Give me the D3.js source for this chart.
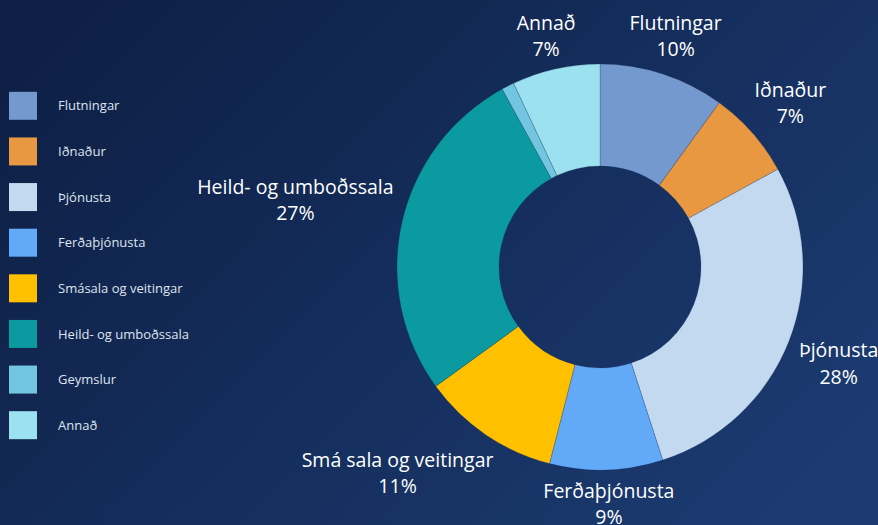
<!DOCTYPE html>
<html>
<head>
<meta charset="utf-8">
<script src="https://cdn.jsdelivr.net/npm/d3@7"></script>
<style>
  html, body { margin: 0; padding: 0; }
  body { width: 878px; height: 525px; overflow: hidden; font-family: "Open Sans", sans-serif; }
</style>
</head>
<body>
<div id="chart"></div>
<script>
// Categories in legend order (clockwise from 12 o'clock)
const categories = ["Flutningar", "Iðnaður", "Þjónusta", "Ferðaþjónusta", "Smásala og veitingar", "Heild- og umboðssala", "Geymslur", "Annað"];
// Label text on the slices (the chart spells one differently than the legend)
const sliceLabels = ["Flutningar", "Iðnaður", "Þjónusta", "Ferðaþjónusta", "Smá sala og veitingar", "Heild- og umboðssala", "Geymslur", "Annað"];
// Share of each category, percent
const shares = [10, 7, 28, 9, 11, 27, 1, 7];
const colors = ["#7399cf", "#e89841", "#c3d9ef", "#62a9f8", "#ffc000", "#0a9aa0", "#73c6e0", "#9be1ef"];

const width = 878, height = 525;
const cx = 600, cy = 267;
const outerR = 203, innerR = 101, labelR = 218;

const data = categories.map((c, i) => ({ name: c, label: sliceLabels[i], value: shares[i], color: colors[i] }));

const svg = d3.select("#chart").append("svg")
  .attr("width", width)
  .attr("height", height);

// background gradient
const grad = svg.append("defs").append("linearGradient")
  .attr("id", "bg")
  .attr("x1", 0).attr("y1", 0.2).attr("x2", 1).attr("y2", 0.8);
grad.append("stop").attr("offset", 0).attr("stop-color", "#0e2046");
grad.append("stop").attr("offset", 1).attr("stop-color", "#1b3b71");
svg.append("rect").attr("width", width).attr("height", height).attr("fill", "url(#bg)");

// legend
const legendY = d3.scaleBand()
  .domain(d3.range(categories.length))
  .range([83, 448]);

const legend = svg.append("g").selectAll("g")
  .data(data)
  .join("g")
  .attr("transform", (d, i) => `translate(9,${legendY(i) + legendY.bandwidth() / 2})`);

legend.append("rect")
  .attr("y", -14)
  .attr("width", 28)
  .attr("height", 28)
  .attr("fill", d => d.color);

legend.append("text")
  .attr("x", 49)
  .attr("dy", "0.35em")
  .attr("fill", "#dfe4ee")
  .attr("font-size", 13)
  .text(d => d.name);

// donut
const pie = d3.pie().sort(null).value(d => d.value);
const arc = d3.arc().innerRadius(innerR).outerRadius(outerR);
const arcs = pie(data);

const g = svg.append("g").attr("transform", `translate(${cx},${cy})`);

g.selectAll("path")
  .data(arcs)
  .join("path")
  .attr("d", arc)
  .attr("fill", d => d.data.color)
  .attr("stroke", "rgba(20,40,80,0.35)")
  .attr("stroke-width", 0.6);

// small hand tweaks so labels sit where the original chart put them
const labelNudge = {
  "Flutningar": [-6, 1],
  "Iðnaður": [0, -3],
  "Þjónusta": [-1, 6],
  "Ferðaþjónusta": [0, -8],
  "Smásala og veitingar": [-26, 3],
  "Heild- og umboðssala": [4, -14],
  "Annað": [0, 7]
};

// labels outside the ring, box pushed out along the mid angle
const labels = g.selectAll("text.lbl")
  .data(arcs.filter(d => d.data.value >= 2))
  .join("text")
  .attr("class", "lbl")
  .attr("fill", "#ffffff")
  .attr("font-size", 19.5)
  .attr("text-anchor", "middle");

labels.append("tspan").attr("x", 0).attr("dy", "-0.2em").text(d => d.data.label);
labels.append("tspan").attr("x", 0).attr("dy", "1.35em").text(d => d.data.value + "%");

labels.each(function (d) {
  const box = this.getBBox();
  const a = (d.startAngle + d.endAngle) / 2;
  const ax = labelR * Math.sin(a), ay = -labelR * Math.cos(a);
  const nudge = labelNudge[d.data.name] || [0, 0];
  const mx = ax + Math.sin(a) * box.width / 2 + nudge[0];
  const my = ay - Math.cos(a) * box.height / 2 + nudge[1];
  // shift so the box centre sits at (mx, my)
  const bx = box.x + box.width / 2, by = box.y + box.height / 2;
  d3.select(this).attr("transform", `translate(${mx - bx},${my - by})`);
});
</script>
</body>
</html>
